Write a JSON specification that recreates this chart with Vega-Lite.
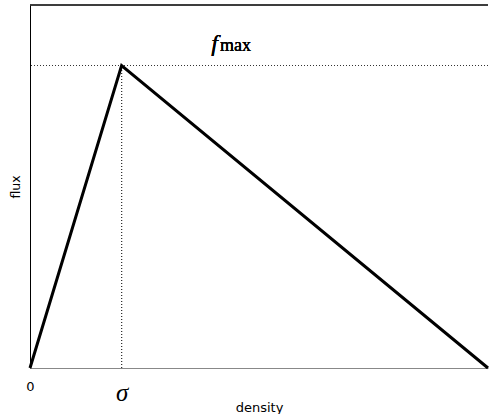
{
  "$schema": "https://vega.github.io/schema/vega-lite/v6.json",
  "autosize": "none",
  "width": 458,
  "height": 363,
  "padding": {"left": 30, "top": 5, "right": 1, "bottom": 46},
  "background": "white",
  "config": {"view": {"stroke": null}},
  "data": {"values": [
    {"density": 0, "flux": 0},
    {"density": 0.2, "flux": 1},
    {"density": 1, "flux": 0}
  ]},
  "layer": [
    {
      "mark": {"type": "rule", "color": "#333", "strokeWidth": 1, "strokeDash": [1, 2]},
      "encoding": {"y": {"datum": 1, "type": "quantitative"}}
    },
    {
      "mark": {"type": "rule", "color": "#333", "strokeWidth": 1, "strokeDash": [1, 2]},
      "encoding": {
        "x": {"datum": 0.2, "type": "quantitative"},
        "y": {"datum": 0, "type": "quantitative"},
        "y2": {"datum": 1}
      }
    },
    {
      "mark": {"type": "rule", "color": "#222", "strokeWidth": 1},
      "encoding": {"y": {"datum": 1.2, "type": "quantitative"}}
    },
    {
      "mark": {"type": "line", "color": "black", "strokeWidth": 3},
      "encoding": {
        "x": {
          "field": "density", "type": "quantitative",
          "scale": {"domain": [0, 1], "nice": false},
          "axis": {
            "values": [0, 0.2],
            "labelExpr": "datum.value == 0 ? '0' : 'σ'",
            "ticks": false,
            "grid": false,
            "domainColor": "#888",
            "domainWidth": 1,
            "labelPadding": 12,
            "labelColor": "black",
            "labelFont": {"condition": {"test": "datum.value > 0.1", "value": "Liberation Serif"}, "value": "DejaVu Sans"},
            "labelFontSize": {"condition": {"test": "datum.value > 0.1", "value": 25}, "value": 13},
            "labelFontStyle": {"condition": {"test": "datum.value > 0.1", "value": "italic"}, "value": "normal"},
            "labelFlush": false,
            "title": "density",
            "titleFont": "DejaVu Sans",
            "titleFontSize": 13,
            "titleFontWeight": "normal",
            "titleColor": "black",
            "titlePadding": -4
          }
        },
        "y": {
          "field": "flux", "type": "quantitative",
          "scale": {"domain": [0, 1.2], "nice": false},
          "axis": {
            "values": [],
            "labels": false,
            "ticks": false,
            "grid": false,
            "domainColor": "black",
            "domainWidth": 1,
            "title": "flux",
            "titleFont": "DejaVu Sans",
            "titleFontSize": 12.5,
            "titleFontWeight": "normal",
            "titleColor": "black",
            "titlePadding": 8
          }
        }
      }
    },
    {
      "mark": {"type": "text", "text": "f", "font": "Liberation Serif", "fontStyle": "italic", "fontSize": 24, "align": "right", "baseline": "alphabetic", "color": "black", "dx": -1},
      "encoding": {
        "x": {"datum": 0.4127, "type": "quantitative"},
        "y": {"datum": 1.048, "type": "quantitative"}
      }
    },
    {
      "mark": {"type": "text", "text": "max", "font": "Liberation Serif", "fontSize": 18, "align": "left", "baseline": "alphabetic", "color": "black", "dx": 1},
      "encoding": {
        "x": {"datum": 0.4127, "type": "quantitative"},
        "y": {"datum": 1.048, "type": "quantitative"}
      }
    }
  ]
}
